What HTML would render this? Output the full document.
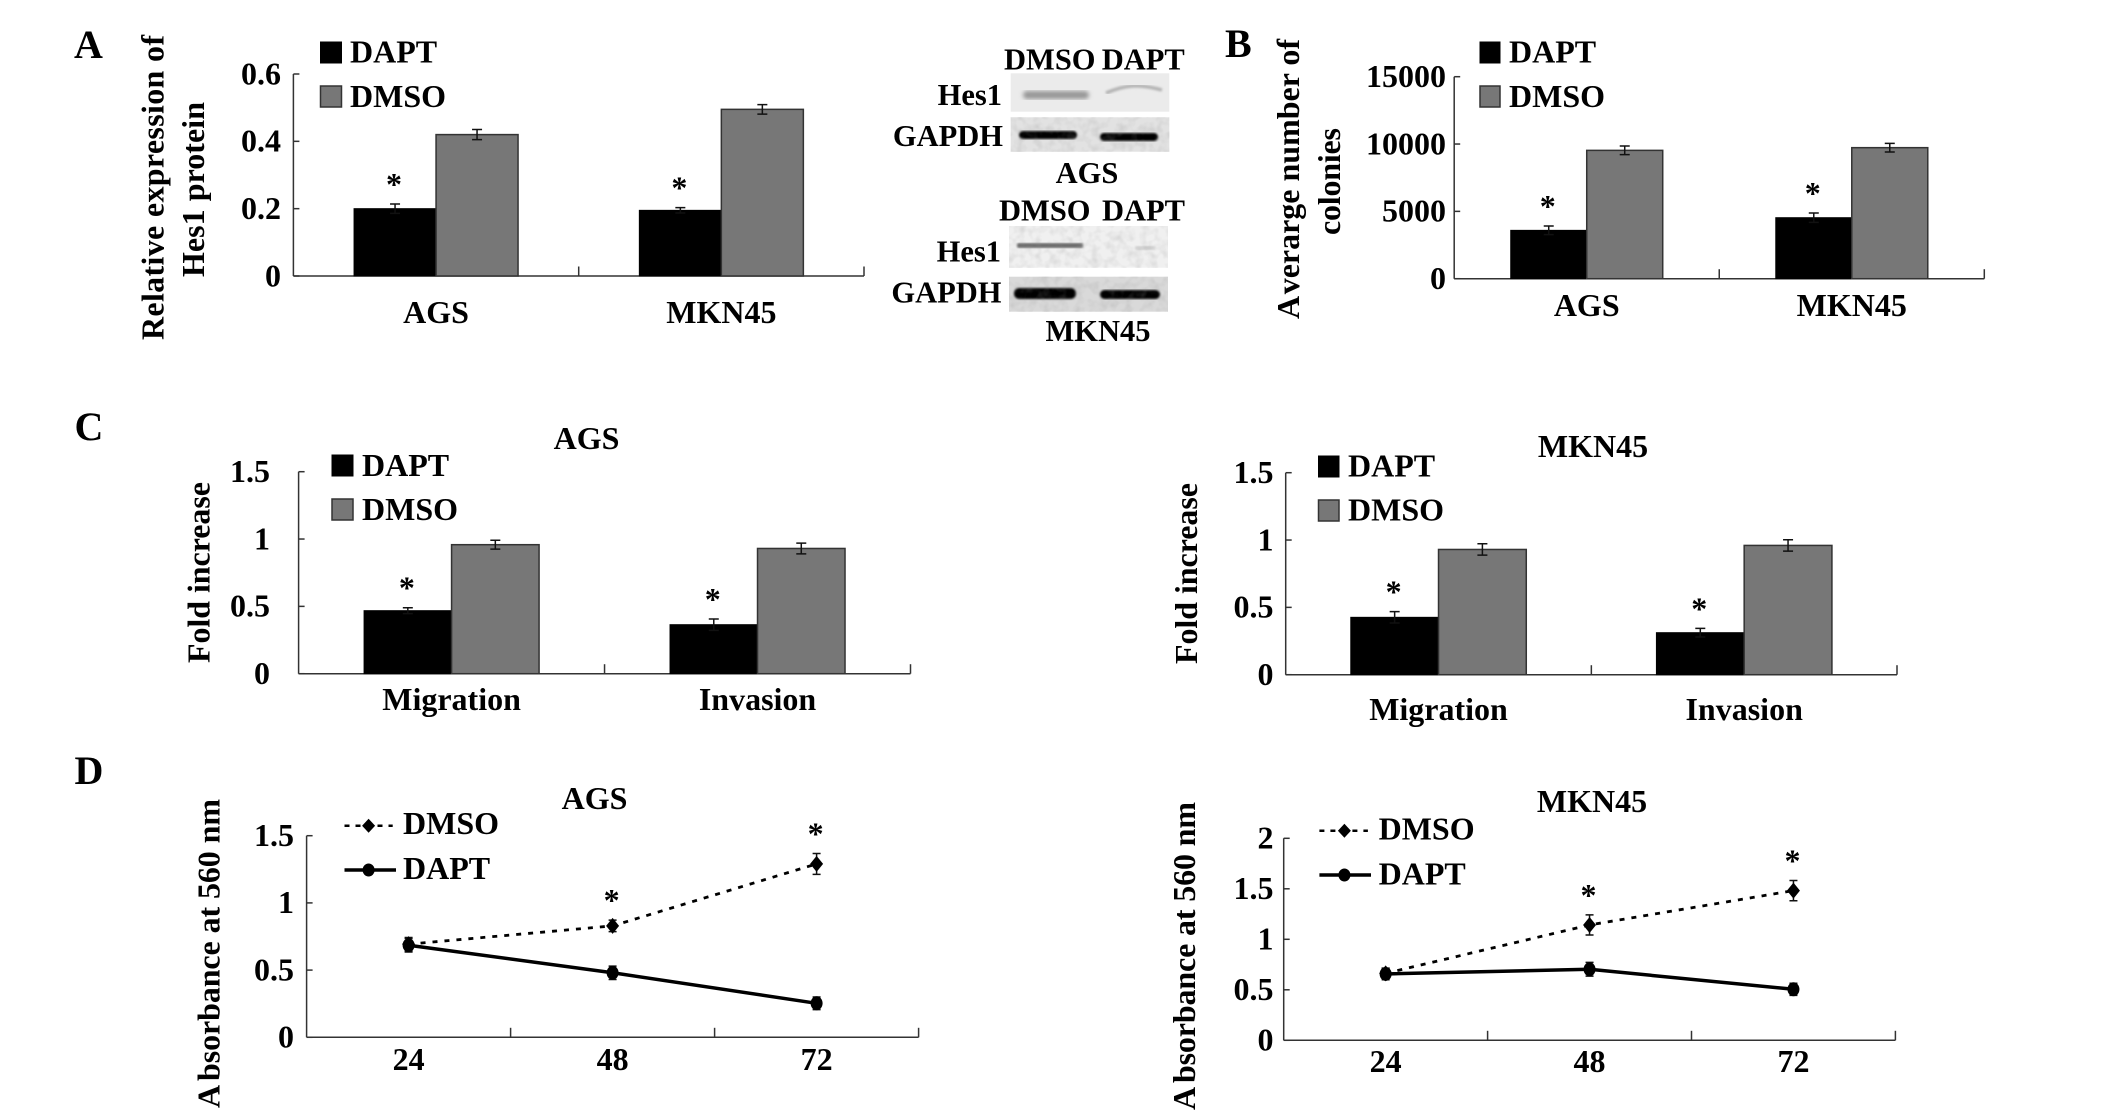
<!DOCTYPE html>
<html lang="en">
<head>
<meta charset="utf-8">
<title>DAPT vs DMSO figure</title>
<style>
html,body{margin:0;padding:0;background:#fff;width:2126px;height:1118px;overflow:hidden}
svg{display:block}
text{font-family:"Liberation Serif",serif;font-weight:bold;font-size:32px;fill:#000}
.pl{font-size:40px}
.bl{font-size:30.5px}
.sw1{fill:#000;stroke:#000;stroke-width:1}
.sw2{fill:#777;stroke:#333;stroke-width:1.5}
</style>
</head>
<body>
<svg id="figure" width="2126" height="1118" viewBox="0 0 2126 1118" xmlns="http://www.w3.org/2000/svg">
<defs>
<filter id="b1"><feGaussianBlur stdDeviation="2"/></filter>
<filter id="b2"><feGaussianBlur stdDeviation="1"/></filter>
<filter id="grain" x="0" y="0" width="100%" height="100%">
<feTurbulence type="fractalNoise" baseFrequency="0.12" numOctaves="2" seed="4"/>
<feColorMatrix type="matrix" values="0 0 0 0 0.3  0 0 0 0 0.3  0 0 0 0 0.3  1.4 0 0 0 -0.55"/>
</filter>
</defs>
<rect width="2126" height="1118" fill="#fff"/>

<text class="pl" x="74" y="58">A</text>
<text class="pl" x="1225" y="57">B</text>
<text class="pl" x="74.5" y="440">C</text>
<text class="pl" x="74.5" y="784">D</text>

<!-- Y-axis titles -->
<text transform="translate(163.3,340) rotate(-90)" textLength="305">Relative expression of</text>
<text transform="translate(204,277) rotate(-90)" textLength="175">Hes1 protein</text>
<text transform="translate(1299,319) rotate(-90)" textLength="280">A<tspan dx="4">verarge number of</tspan></text>
<text transform="translate(1340,235) rotate(-90)" textLength="107">colonies</text>
<text transform="translate(209.6,663) rotate(-90)" textLength="181">Fold increase</text>
<text transform="translate(1197,664) rotate(-90)" textLength="181">Fold increase</text>
<text transform="translate(219.3,1108) rotate(-90)" textLength="309">A<tspan dx="4">bsorbance at 560 nm</tspan></text>
<text transform="translate(1195,1110) rotate(-90)" textLength="308">A<tspan dx="4">bsorbance at 560 nm</tspan></text>

<!-- Panel titles -->
<text x="586.5" y="449" text-anchor="middle">AGS</text>
<text x="1593" y="457" text-anchor="middle">MKN45</text>
<text x="594.5" y="809" text-anchor="middle">AGS</text>
<text x="1592" y="812" text-anchor="middle">MKN45</text>

<!-- Bar legends -->
<g>
<rect class="sw1" x="320.5" y="42" width="21" height="21"/>
<text x="350" y="62.7">DAPT</text>
<rect class="sw2" x="320.5" y="86" width="21" height="21"/>
<text x="350" y="107">DMSO</text>
</g>
<g>
<rect class="sw1" x="1480" y="42" width="20" height="21"/>
<text x="1509" y="62.7">DAPT</text>
<rect class="sw2" x="1480" y="86" width="20" height="21"/>
<text x="1509" y="107">DMSO</text>
</g>
<g>
<rect class="sw1" x="332" y="455" width="21" height="21"/>
<text x="362" y="476">DAPT</text>
<rect class="sw2" x="332" y="499" width="21" height="21"/>
<text x="362" y="520">DMSO</text>
</g>
<g>
<rect class="sw1" x="1318.5" y="456" width="20.5" height="21"/>
<text x="1348" y="476.7">DAPT</text>
<rect class="sw2" x="1318.5" y="500" width="20.5" height="21"/>
<text x="1348" y="520.7">DMSO</text>
</g>

<!-- Line legends -->
<g>
<line x1="344.5" x2="392.7" y1="825.7" y2="825.7" stroke="#000" stroke-width="2.5" stroke-dasharray="5 6"/>
<polygon points="368.6,818.7 375.1,825.7 368.6,832.7 362.1,825.7" fill="#000"/>
<text x="403" y="834">DMSO</text>
<line x1="344.5" x2="396" y1="870" y2="870" stroke="#000" stroke-width="3.5"/>
<ellipse cx="368.6" cy="870" rx="6" ry="6.5" fill="#000"/>
<text x="403" y="879">DAPT</text>
</g>
<g>
<line x1="1319.4" x2="1367.9" y1="830.7" y2="830.7" stroke="#000" stroke-width="2.5" stroke-dasharray="5 6"/>
<polygon points="1344.4,823.7 1350.9,830.7 1344.4,837.7 1337.9,830.7" fill="#000"/>
<text x="1378.6" y="839.3">DMSO</text>
<line x1="1319.4" x2="1371" y1="875" y2="875" stroke="#000" stroke-width="3.5"/>
<ellipse cx="1344.4" cy="875" rx="6" ry="6.5" fill="#000"/>
<text x="1378.6" y="884.5">DAPT</text>
</g>

<!-- Western blots -->
<g>
<text class="bl" x="1004" y="69.3">DMSO</text>
<text class="bl" x="1101.7" y="69.3">DAPT</text>
<text class="bl" x="1002" y="105" text-anchor="end">Hes1</text>
<text class="bl" x="1003" y="146" text-anchor="end">GAPDH</text>
<rect x="1010.7" y="73.3" width="158.6" height="38.4" fill="#ebebeb"/>
<rect x="1023" y="91" width="66" height="8" rx="4" fill="#969696" filter="url(#b1)"/>
<path d="M1106 93 Q1120 87 1132 86 T1162 90" fill="none" stroke="#b4b4b4" stroke-width="3.5" filter="url(#b2)"/>
<rect x="1010.7" y="117.3" width="158.6" height="34.4" fill="#e2e2e2"/>
<rect x="1019" y="131" width="58" height="8" rx="4" fill="#000" filter="url(#b2)"/>
<rect x="1100" y="133" width="58" height="8" rx="4" fill="#000" filter="url(#b2)"/>
<rect x="1010.7" y="117.3" width="158.6" height="34.4" filter="url(#grain)" opacity="0.35"/>
<text class="bl" x="1087" y="183" text-anchor="middle">AGS</text>
</g>
<g>
<text class="bl" x="999" y="220.7">DMSO</text>
<text class="bl" x="1102" y="220.7">DAPT</text>
<text class="bl" x="1001" y="261.7" text-anchor="end">Hes1</text>
<text class="bl" x="1001.5" y="302.7" text-anchor="end">GAPDH</text>
<rect x="1009" y="226" width="159" height="41.7" fill="#f0f0f0"/>
<rect x="1017" y="243" width="66" height="5" rx="2" fill="#6a6a6a" filter="url(#b2)"/>
<rect x="1135" y="246" width="20" height="4" rx="2" fill="#cfcfcf" filter="url(#b2)"/>
<rect x="1009" y="226" width="159" height="41.7" filter="url(#grain)" opacity="0.35"/>
<rect x="1009" y="276.7" width="159" height="35" fill="#d9d9d9"/>
<rect x="1014" y="288" width="62" height="11" rx="5" fill="#000" filter="url(#b2)"/>
<rect x="1100" y="290" width="60" height="9" rx="4.5" fill="#000" filter="url(#b2)"/>
<rect x="1009" y="276.7" width="159" height="35" filter="url(#grain)" opacity="0.35"/>
<text class="bl" x="1098" y="341" text-anchor="middle">MKN45</text>
</g>

<g id="charts"></g>
</svg>

<script>
// Panel A: relative expression of Hes1 protein
const panelACategories = ['AGS', 'MKN45'];
const panelADapt = [0.2, 0.195];
const panelADmso = [0.42, 0.495];
const panelADaptErr = [0.014, 0.008];
const panelADmsoErr = [0.015, 0.014];
const panelATicks = [0, 0.2, 0.4, 0.6];

// Panel B: average number of colonies
const panelBCategories = ['AGS', 'MKN45'];
const panelBDapt = [3590, 4530];
const panelBDmso = [9530, 9730];
const panelBDaptErr = [320, 350];
const panelBDmsoErr = [320, 320];
const panelBTicks = [0, 5000, 10000, 15000];

// Panel C: fold increase, AGS
const panelCAgsCategories = ['Migration', 'Invasion'];
const panelCAgsDapt = [0.468, 0.364];
const panelCAgsDmso = [0.958, 0.93];
const panelCAgsDaptErr = [0.022, 0.042];
const panelCAgsDmsoErr = [0.033, 0.04];
const panelCAgsTicks = [0, 0.5, 1, 1.5];

// Panel C: fold increase, MKN45
const panelCMknCategories = ['Migration', 'Invasion'];
const panelCMknDapt = [0.426, 0.312];
const panelCMknDmso = [0.93, 0.96];
const panelCMknDaptErr = [0.042, 0.032];
const panelCMknDmsoErr = [0.042, 0.042];
const panelCMknTicks = [0, 0.5, 1, 1.5];

// Panel D: absorbance, AGS
const panelDAgsHours = ['24', '48', '72'];
const panelDAgsDmso = [0.693, 0.829, 1.29];
const panelDAgsDapt = [0.685, 0.48, 0.253];
const panelDAgsDmsoErr = [0.05, 0.043, 0.078];
const panelDAgsDaptErr = [0.05, 0.05, 0.047];
const panelDAgsTicks = [0, 0.5, 1, 1.5];

// Panel D: absorbance, MKN45
const panelDMknHours = ['24', '48', '72'];
const panelDMknDmso = [0.663, 1.142, 1.482];
const panelDMknDapt = [0.657, 0.703, 0.505];
const panelDMknDmsoErr = [0.05, 0.1, 0.1];
const panelDMknDaptErr = [0.058, 0.068, 0.06];
const panelDMknTicks = [0, 0.5, 1, 1.5, 2];

const SVG_NS = 'http://www.w3.org/2000/svg';
const chartsRoot = document.getElementById('charts');

function make(parent, tag, attrs, content) {
  const node = document.createElementNS(SVG_NS, tag);
  Object.keys(attrs).forEach(function (k) { node.setAttribute(k, attrs[k]); });
  if (content !== undefined) node.textContent = content;
  parent.appendChild(node);
  return node;
}

function slug(s) {
  return String(s).toLowerCase().replace(/[^a-z0-9]+/g, '-');
}

function drawAxes(g, frame, ticks, cats, tickCount) {
  const y = function (v) { return frame.y0 - (v / frame.yMax) * (frame.y0 - frame.yTop); };
  const axisCol = '#333';

  const yLine = make(g, 'line', { x1: frame.x0, x2: frame.x0, y1: frame.yTop, y2: frame.y0, stroke: axisCol, 'stroke-width': 1.5 });
  
  

  const xLine = make(g, 'line', { x1: frame.x0, x2: frame.x1, y1: frame.y0, y2: frame.y0, stroke: axisCol, 'stroke-width': 1.5 });
  
  

  ticks.forEach(function (t) {
    const tick = make(g, 'line', { x1: frame.x0, x2: frame.x0 + 6, y1: y(t), y2: y(t), stroke: axisCol, 'stroke-width': 1.5 });
    
    
    const label = make(g, 'text', { x: frame.tickRight, y: y(t) + 10.3, 'text-anchor': 'end' }, String(t));
    
    
  });

  const band = (frame.x1 - frame.x0) / tickCount;
  for (let i = 1; i <= tickCount; i++) {
    const xt = frame.x0 + band * i;
    const tick = make(g, 'line', { x1: xt, x2: xt, y1: frame.y0 - 9.5, y2: frame.y0, stroke: axisCol, 'stroke-width': 1.5 });
    
    
  }

  cats.forEach(function (c, i) {
    const label = make(g, 'text', { x: frame.x0 + band * (i + 0.5), y: frame.catBaseline, 'text-anchor': 'middle' }, c);
    
    
  });
  return { y: y, band: band };
}

function errorBar(g, cx, yHi, yLo, capW, name) {
  const d = 'M' + cx + ' ' + yHi + 'V' + yLo + 'M' + (cx - capW) + ' ' + yHi + 'H' + (cx + capW) + 'M' + (cx - capW) + ' ' + yLo + 'H' + (cx + capW);
  const eb = make(g, 'path', { d: d, fill: 'none', stroke: '#111', 'stroke-width': 1.5 });
  
  
}

function star(g, cx, yTop, name) {
  const s = make(g, 'text', { x: cx - 1, y: yTop - 9, 'text-anchor': 'middle' }, '*');
  
  
}

function drawBarPanel(name, frame, cats, dapt, dmso, daptErr, dmsoErr, ticks) {
  const g = make(chartsRoot, 'g', {});
  
  

  const ax = drawAxes(g, frame, ticks, cats, cats.length);
  const w = frame.groupW / 2;
  cats.forEach(function (c, i) {
    const cx = frame.x0 + ax.band * (i + 0.5);
    const key = slug(c);

    const b1 = make(g, 'rect', { x: cx - w, y: ax.y(dapt[i]), width: w, height: frame.y0 - ax.y(dapt[i]), fill: '#000', stroke: '#000', 'stroke-width': 1 });
    
    

    const b2 = make(g, 'rect', { x: cx, y: ax.y(dmso[i]), width: w, height: frame.y0 - ax.y(dmso[i]), fill: '#777', stroke: '#333', 'stroke-width': 1.5 });
    
    

    errorBar(g, cx - w / 2, ax.y(dapt[i] + daptErr[i]), ax.y(dapt[i] - daptErr[i]), 5, 'error-bar-dapt-' + key);
    errorBar(g, cx + w / 2, ax.y(dmso[i] + dmsoErr[i]), ax.y(dmso[i] - dmsoErr[i]), 5, 'error-bar-dmso-' + key);
    star(g, cx - w / 2, ax.y(dapt[i] + daptErr[i]), 'significance-star-' + key);
  });
}

function drawLinePanel(name, frame, hours, dmso, dapt, dmsoErr, daptErr, ticks) {
  const g = make(chartsRoot, 'g', {});
  
  

  const ax = drawAxes(g, frame, ticks, hours, hours.length);
  const x = function (i) { return frame.x0 + ax.band * (i + 0.5); };
  const pts = function (arr) { return arr.map(function (v, i) { return x(i) + ',' + ax.y(v); }).join(' '); };

  const l1 = make(g, 'polyline', { points: pts(dmso), fill: 'none', stroke: '#000', 'stroke-width': 2.8, 'stroke-dasharray': '5 7' });
  
  

  const l2 = make(g, 'polyline', { points: pts(dapt), fill: 'none', stroke: '#000', 'stroke-width': 3.5 });
  
  

  hours.forEach(function (h, i) {
    const cx = x(i);
    const yA = ax.y(dmso[i]);
    const yB = ax.y(dapt[i]);
    errorBar(g, cx, ax.y(dmso[i] + dmsoErr[i]), ax.y(dmso[i] - dmsoErr[i]), 4, 'error-bar-dmso-' + h);
    errorBar(g, cx, ax.y(dapt[i] + daptErr[i]), ax.y(dapt[i] - daptErr[i]), 4, 'error-bar-dapt-' + h);

    const m1 = make(g, 'polygon', { points: cx + ',' + (yA - 8) + ' ' + (cx + 6.5) + ',' + yA + ' ' + cx + ',' + (yA + 8) + ' ' + (cx - 6.5) + ',' + yA, fill: '#000' });
    
    

    const m2 = make(g, 'ellipse', { cx: cx, cy: yB, rx: 6, ry: 7, fill: '#000' });
    
    

    if (i > 0) star(g, cx, ax.y(dmso[i] + dmsoErr[i]), 'significance-star-' + h);
  });
}

drawBarPanel('panel-a-chart', { x0: 293.4, x1: 864, y0: 276, yTop: 74, yMax: 0.6, groupW: 164, tickRight: 281, catBaseline: 323 },
  panelACategories, panelADapt, panelADmso, panelADaptErr, panelADmsoErr, panelATicks);

drawBarPanel('panel-b-chart', { x0: 1454.2, x1: 1984.3, y0: 278.7, yTop: 76.7, yMax: 15000, groupW: 152, tickRight: 1446, catBaseline: 316 },
  panelBCategories, panelBDapt, panelBDmso, panelBDaptErr, panelBDmsoErr, panelBTicks);

drawBarPanel('panel-c-ags-chart', { x0: 298.6, x1: 910.5, y0: 673.7, yTop: 471.7, yMax: 1.5, groupW: 175, tickRight: 270, catBaseline: 710 },
  panelCAgsCategories, panelCAgsDapt, panelCAgsDmso, panelCAgsDaptErr, panelCAgsDmsoErr, panelCAgsTicks);

drawBarPanel('panel-c-mkn45-chart', { x0: 1285.7, x1: 1897, y0: 674.7, yTop: 472.7, yMax: 1.5, groupW: 175.5, tickRight: 1273.5, catBaseline: 720 },
  panelCMknCategories, panelCMknDapt, panelCMknDmso, panelCMknDaptErr, panelCMknDmsoErr, panelCMknTicks);

drawLinePanel('panel-d-ags-chart', { x0: 306.6, x1: 918.6, y0: 1037.3, yTop: 835.7, yMax: 1.5, tickRight: 294, catBaseline: 1070 },
  panelDAgsHours, panelDAgsDmso, panelDAgsDapt, panelDAgsDmsoErr, panelDAgsDaptErr, panelDAgsTicks);

drawLinePanel('panel-d-mkn45-chart', { x0: 1283.7, x1: 1895.4, y0: 1040.3, yTop: 838.3, yMax: 2, tickRight: 1273.5, catBaseline: 1072 },
  panelDMknHours, panelDMknDmso, panelDMknDapt, panelDMknDmsoErr, panelDMknDaptErr, panelDMknTicks);
</script>
</body>
</html>
